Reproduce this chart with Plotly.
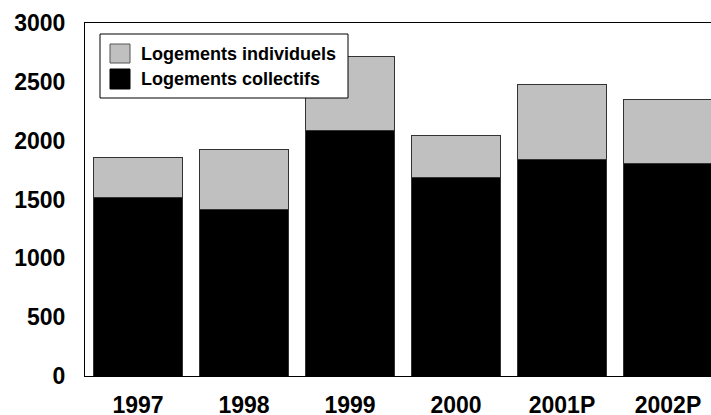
import plotly.graph_objects as go

# Housing construction by type (units)
years = ["1997", "1998", "1999", "2000", "2001P", "2002P"]
collectifs = [1521, 1417, 2085, 1683, 1836, 1804]
individuels = [337, 512, 630, 362, 643, 544]

W, H = 711, 415
L, R, T, B = 85, 0, 23, 39
plot_w = W - L - R
plot_h = H - T - B

FONT = "Liberation Sans"
outline = dict(color="#333333", width=1)

fig = go.Figure()
fig.add_trace(go.Bar(x=years, y=collectifs, name="Logements collectifs",
                     marker=dict(color="#000000", line=outline)))
fig.add_trace(go.Bar(x=years, y=individuels, name="Logements individuels",
                     marker=dict(color="#C0C0C0", line=outline)))


def px_x(px):
    return (px - L) / plot_w


def px_y(py):
    return (H - B - py) / plot_h


# Legend box drawn by hand so the swatches are full-size squares
shapes = [
    dict(type="rect", xref="paper", yref="paper",
         x0=px_x(100), x1=px_x(348), y0=px_y(98), y1=px_y(34),
         line=dict(color="#000000", width=1), fillcolor="#FFFFFF", layer="above"),
    dict(type="rect", xref="paper", yref="paper",
         x0=px_x(110), x1=px_x(130), y0=px_y(63), y1=px_y(44),
         line=dict(color="#555555", width=1), fillcolor="#C0C0C0", layer="above"),
    dict(type="rect", xref="paper", yref="paper",
         x0=px_x(110), x1=px_x(130), y0=px_y(89), y1=px_y(69),
         line=dict(color="#000000", width=1), fillcolor="#000000", layer="above"),
]
annotations = [
    dict(text="Logements individuels", xref="paper", yref="paper",
         x=px_x(139), y=px_y(53.5), xanchor="left", yanchor="middle", showarrow=False,
         font=dict(family=FONT, size=18, color="#000000", weight="bold")),
    dict(text="Logements collectifs", xref="paper", yref="paper",
         x=px_x(139), y=px_y(79), xanchor="left", yanchor="middle", showarrow=False,
         font=dict(family=FONT, size=18, color="#000000", weight="bold")),
]

fig.update_layout(
    template="none",
    width=W, height=H,
    margin=dict(l=L, r=R, t=T, b=B, pad=0),
    barmode="stack", bargap=0.163,
    plot_bgcolor="#FFFFFF", paper_bgcolor="#FFFFFF",
    showlegend=False,
    shapes=shapes, annotations=annotations,
    xaxis=dict(type="category", range=[-0.5, 5.406], showgrid=False,
               showline=True, mirror=True,
               linecolor="#000000", linewidth=1, ticks="", automargin=False,
               tickfont=dict(family=FONT, size=23, color="#000000", weight="bold"),
               ticklabelstandoff=8),
    yaxis=dict(range=[0, 3000], tickvals=[0, 500, 1000, 1500, 2000, 2500, 3000],
               showgrid=False, showline=True, linecolor="#000000", linewidth=1,
               ticks="", zeroline=False, automargin=False,
               tickfont=dict(family=FONT, size=23, color="#000000", weight="bold"),
               ticklabelstandoff=14),
)

fig.write_html("out.html")
